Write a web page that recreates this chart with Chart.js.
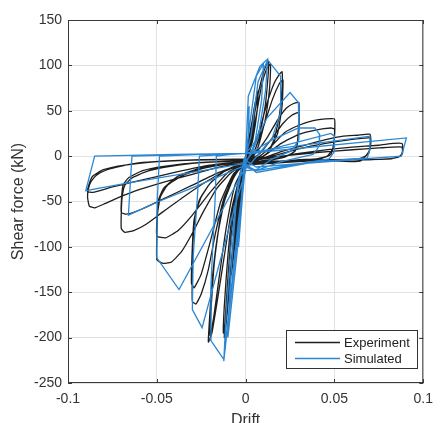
<!DOCTYPE html>
<html>
<head>
<meta charset="utf-8">
<script src="https://cdn.jsdelivr.net/npm/chart.js@4.4.1/dist/chart.umd.min.js"></script>
<style>
  html, body { margin: 0; padding: 0; background: #fff; }
  canvas { display: block; }
</style>
</head>
<body>
<canvas id="hysteresis" width="441" height="423"></canvas>
<script>
// axis ticks
var driftTicks = [-0.1, -0.05, 0, 0.05, 0.1];
var forceTicks = [-250, -200, -150, -100, -50, 0, 50, 100, 150];

// test record, one array per loading cycle: [drift, shear force kN]
var expCycle1 = [[0,0],[0.002,22],[0.004,42],[0.005,50],[0.0045,35],[0.003,15],[0.001,-2],[-0.001,-18],[-0.003,-50],[-0.005,-85],[-0.006,-100],[-0.005,-75],[-0.003,-35],[-0.001,-10],[0,-3]];
var expCycle1b = [[0.002,18],[0.005,55],[0.007,72],[0.0065,50],[0.004,18],[0.001,-4],[-0.002,-30],[-0.005,-80],[-0.008,-130],[-0.007,-95],[-0.004,-40],[-0.001,-10],[0,-4]];
var expCycle2 = [[0.002,12],[0.004,35],[0.007,68],[0.010,92],[0.012,102],[0.013,104],[0.0125,85],[0.011,55],[0.008,25],[0.005,5],[0.002,-6],[0,-14],[-0.003,-40],[-0.006,-85],[-0.009,-145],[-0.011,-185],[-0.012,-200],[-0.0115,-180],[-0.010,-135],[-0.008,-85],[-0.005,-40],[-0.002,-14],[0,-6]];
var expCycle3 = [[0.003,12],[0.006,45],[0.009,78],[0.012,97],[0.014,101],[0.0135,75],[0.011,40],[0.007,10],[0.003,-5],[0,-12],[-0.004,-45],[-0.008,-115],[-0.011,-175],[-0.0125,-195],[-0.012,-165],[-0.010,-110],[-0.007,-55],[-0.003,-18],[0,-7]];
var expCycle4 = [[0.004,8],[0.008,30],[0.012,58],[0.016,80],[0.019,90],[0.0205,93],[0.0205,75],[0.019,45],[0.016,18],[0.012,3],[0.006,-6],[0,-12],[-0.004,-28],[-0.008,-60],[-0.012,-110],[-0.016,-160],[-0.019,-195],[-0.021,-205],[-0.0205,-185],[-0.019,-140],[-0.016,-90],[-0.012,-50],[-0.007,-25],[-0.003,-13],[0,-7]];
var expCycle5 = [[0.005,6],[0.010,32],[0.015,62],[0.019,80],[0.021,84],[0.0205,55],[0.018,25],[0.013,5],[0.007,-4],[0,-10],[-0.006,-32],[-0.011,-80],[-0.015,-135],[-0.018,-178],[-0.020,-198],[-0.0195,-170],[-0.0175,-115],[-0.014,-65],[-0.009,-30],[-0.004,-14],[0,-7]];
var expCycle6 = [[0.006,4],[0.012,20],[0.018,40],[0.023,53],[0.027,58],[0.030,59],[0.0298,35],[0.029,12],[0.027,4],[0.020,-2],[0.010,-5],[0,-9],[-0.006,-20],[-0.012,-45],[-0.017,-85],[-0.021,-125],[-0.025,-152],[-0.028,-163],[-0.030,-160],[-0.030,-125],[-0.0295,-90],[-0.028,-62],[-0.025,-45],[-0.020,-30],[-0.013,-18],[-0.006,-11],[0,-7]];
var expCycle7 = [[0.008,3],[0.015,20],[0.021,36],[0.026,45],[0.030,48],[0.0298,25],[0.028,6],[0.022,-1],[0.012,-5],[0,-9],[-0.007,-20],[-0.014,-50],[-0.020,-95],[-0.025,-130],[-0.029,-145],[-0.0305,-140],[-0.030,-100],[-0.029,-70],[-0.026,-48],[-0.020,-30],[-0.012,-17],[0,-7]];
var expCycle8 = [[0.008,0],[0.015,12],[0.022,26],[0.030,34],[0.038,39],[0.045,41],[0.050,41],[0.0502,30],[0.050,21],[0.049,8],[0.046,0],[0.040,-3],[0.030,-4],[0.020,-6],[0.010,-8],[0,-10],[-0.008,-18],[-0.016,-35],[-0.024,-62],[-0.030,-85],[-0.036,-105],[-0.042,-117],[-0.047,-118],[-0.050,-114],[-0.050,-90],[-0.0495,-62],[-0.048,-45],[-0.044,-32],[-0.036,-22],[-0.025,-14],[-0.012,-9],[0,-6]];
var expCycle9 = [[0.010,0],[0.020,14],[0.030,24],[0.040,29],[0.048,31],[0.050,30],[0.0498,15],[0.048,2],[0.042,-3],[0.030,-5],[0.015,-7],[0,-9],[-0.010,-18],[-0.020,-40],[-0.030,-65],[-0.038,-82],[-0.045,-90],[-0.050,-88],[-0.0498,-65],[-0.049,-48],[-0.046,-35],[-0.038,-22],[-0.025,-13],[-0.012,-9],[0,-6]];
var expCycle10 = [[0.010,-2],[0.020,5],[0.035,13],[0.047,19],[0.055,22],[0.063,23],[0.070,24],[0.0705,16],[0.070,8],[0.068,1],[0.065,-5],[0.060,-6],[0.045,-5],[0.030,-6],[0.015,-8],[0,-10],[-0.010,-15],[-0.022,-28],[-0.035,-45],[-0.047,-62],[-0.056,-75],[-0.063,-82],[-0.068,-84],[-0.070,-80],[-0.070,-62],[-0.0695,-45],[-0.068,-32],[-0.064,-24],[-0.056,-17],[-0.045,-12],[-0.030,-8],[-0.015,-6],[0,-5]];
var expCycle11 = [[0.015,0],[0.030,8],[0.045,14],[0.058,18],[0.070,20],[0.0702,10],[0.069,2],[0.064,-3],[0.045,-4],[0.025,-5],[0,-8],[-0.015,-18],[-0.030,-32],[-0.045,-46],[-0.058,-58],[-0.067,-64],[-0.070,-62],[-0.0698,-45],[-0.069,-32],[-0.066,-24],[-0.058,-16],[-0.045,-11],[-0.025,-7],[0,-5]];
var expCycle12 = [[0.015,-2],[0.030,3],[0.045,7],[0.060,10],[0.075,12],[0.083,14],[0.088,14],[0.0885,7],[0.088,2],[0.086,-1],[0.080,-3],[0.070,-4],[0.055,-4],[0.040,-5],[0.020,-6],[0,-8],[-0.015,-12],[-0.030,-20],[-0.045,-28],[-0.060,-37],[-0.072,-46],[-0.080,-53],[-0.085,-57],[-0.088,-55],[-0.089,-45],[-0.0885,-36],[-0.087,-28],[-0.084,-21],[-0.078,-15],[-0.070,-11],[-0.058,-7],[-0.040,-5],[-0.020,-4],[0,-4]];
var expCycle13 = [[0.020,0],[0.040,4],[0.060,7],[0.075,9],[0.088,10],[0.0882,4],[0.087,0],[0.082,-3],[0.060,-4],[0.030,-5],[0,-6],[-0.020,-10],[-0.040,-18],[-0.060,-27],[-0.075,-34],[-0.086,-40],[-0.089,-39],[-0.088,-30],[-0.086,-22],[-0.080,-15],[-0.068,-10],[-0.050,-6],[-0.025,-4],[0,-3]];

// model response, same layout
var simCycle0 = [[0,0],[0.001,40],[0.002,55],[0.0015,22],[0,-5],[-0.002,-50],[-0.004,-100],[-0.003,-60],[-0.001,-12],[0,0]];
var simCycle1 = [[0.0015,66],[0.008,99],[0.0124,107],[0.0112,72],[0.007,20],[0.003,2],[0,-6],[-0.003,-60],[-0.008,-150],[-0.0123,-226],[-0.011,-175],[-0.008,-95],[-0.004,-25],[0,0]];
var simCycle1b = [[0.002,30],[0.006,88],[0.010,102],[0.009,62],[0.005,12],[0,-8],[-0.005,-110],[-0.010,-200],[-0.009,-150],[-0.005,-42],[-0.001,-4],[0,0]];
var simCycle2 = [[0.003,22],[0.007,82],[0.0124,106],[0.0197,88],[0.0197,48],[0.015,20],[0.008,4],[0.003,-8],[0,-12],[-0.004,-70],[-0.0123,-224],[-0.020,-202],[-0.0195,-140],[-0.017,-40],[-0.0165,0],[-0.008,2],[0,3]];
var simCycle3 = [[0.004,12],[0.012,42],[0.025,70],[0.0297,59],[0.030,18],[0.026,6],[0.015,-3],[0.006,-15],[0,-16],[-0.006,-55],[-0.0245,-189],[-0.030,-169],[-0.0295,-110],[-0.027,-40],[-0.026,0],[-0.012,2],[0,3]];
var simCycle4 = [[0.004,5],[0.015,18],[0.0297,31],[0.039,31],[0.0417,24],[0.0415,11],[0.038,2],[0.020,-6],[0.006,-16],[0,-12],[-0.0375,-147],[-0.050,-112],[-0.0498,-50],[-0.0485,0],[-0.025,2],[0,3]];
var simCycle5 = [[0.005,3],[0.048,25],[0.050,22],[0.050,5],[0.047,-3],[0.006,-16],[0,-10],[-0.030,-35],[-0.049,-50],[-0.066,-65],[-0.064,0],[-0.030,2],[0,3]];
var simCycle6 = [[0.005,5],[0.070,22],[0.070,8],[0.0685,-2],[0.040,-6],[0.006,-18],[0,-8],[-0.0675,-30],[-0.090,-38],[-0.085,0],[-0.040,2],[0,3]];
var simCycle7 = [[0.006,4],[0.0905,20],[0.0877,0],[0.060,-4],[0.006,-12],[0,-5]];

var experimentCycles = [expCycle1, expCycle1b, expCycle2, expCycle3, expCycle4, expCycle5, expCycle6, expCycle7,
  expCycle8, expCycle9, expCycle10, expCycle11, expCycle12, expCycle13];
var simulatedCycles = [simCycle0, simCycle1, simCycle1b, simCycle2, simCycle3, simCycle4, simCycle5, simCycle6, simCycle7];

var expColor = '#1e1e1e';
var simColor = '#2b87d3';

function toPoints(cycles) {
  var out = [];
  cycles.forEach(function(c) {
    c.forEach(function(p) { out.push({x: p[0], y: p[1]}); });
  });
  return out;
}

// frame, inward ticks, axis titles and the legend box
var decorations = {
  id: 'decorations',
  afterDraw: function(chart) {
    var ctx = chart.ctx, a = chart.chartArea;
    var sx = chart.scales.x, sy = chart.scales.y;
    ctx.save();
    ctx.strokeStyle = '#3a3a3a';
    ctx.lineWidth = 1;
    ctx.strokeRect(a.left + 0.5, a.top + 0.5, a.right - a.left - 1, a.bottom - a.top - 1);
    ctx.beginPath();
    driftTicks.forEach(function(v) {
      var px = Math.round(sx.getPixelForValue(v)) + 0.5;
      ctx.moveTo(px, a.bottom); ctx.lineTo(px, a.bottom - 4);
      ctx.moveTo(px, a.top); ctx.lineTo(px, a.top + 4);
    });
    forceTicks.forEach(function(v) {
      var py = Math.round(sy.getPixelForValue(v)) + 0.5;
      ctx.moveTo(a.left, py); ctx.lineTo(a.left + 4, py);
      ctx.moveTo(a.right, py); ctx.lineTo(a.right - 4, py);
    });
    ctx.stroke();

    ctx.fillStyle = '#333';
    ctx.font = '16px "Liberation Sans", Arial, sans-serif';
    ctx.textAlign = 'center';
    ctx.textBaseline = 'middle';
    ctx.fillText('Drift', (a.left + a.right) / 2, 421);
    ctx.translate(19, (a.top + a.bottom) / 2);
    ctx.rotate(-Math.PI / 2);
    ctx.fillText('Shear force (kN)', 0, 0);
    ctx.restore();

    // legend
    ctx.save();
    ctx.fillStyle = '#fff';
    ctx.fillRect(286, 330, 132, 39);
    ctx.strokeStyle = '#333';
    ctx.lineWidth = 1;
    ctx.strokeRect(286.5, 330.5, 131, 38);
    var rows = [['Experiment', expColor, 342], ['Simulated', simColor, 358]];
    ctx.font = '13px "Liberation Sans", Arial, sans-serif';
    ctx.textAlign = 'left';
    ctx.textBaseline = 'middle';
    rows.forEach(function(r) {
      ctx.strokeStyle = r[1];
      ctx.lineWidth = 1.3;
      ctx.beginPath();
      ctx.moveTo(295, r[2] + 0.5); ctx.lineTo(340, r[2] + 0.5);
      ctx.stroke();
      ctx.fillStyle = '#222';
      ctx.fillText(r[0], 344, r[2] + 1);
    });
    ctx.restore();
  }
};

new Chart(document.getElementById('hysteresis'), {
  type: 'scatter',
  data: {
    datasets: [
      {
        label: 'Experiment',
        data: toPoints(experimentCycles),
        showLine: true,
        borderColor: expColor,
        borderWidth: 1.3,
        pointRadius: 0,
        tension: 0.15,
        order: 2
      },
      {
        label: 'Simulated',
        data: toPoints(simulatedCycles),
        showLine: true,
        borderColor: simColor,
        borderWidth: 1.3,
        pointRadius: 0,
        tension: 0,
        order: 1
      }
    ]
  },
  options: {
    responsive: false,
    animation: false,
    devicePixelRatio: 1,
    layout: { padding: { top: 20, right: 9, left: 0, bottom: 0 } },
    plugins: { legend: { display: false }, tooltip: { enabled: false } },
    scales: {
      x: {
        type: 'linear',
        min: -0.1, max: 0.1,
        afterFit: function(s) { s.height = 40; },
        afterBuildTicks: function(s) { s.ticks = driftTicks.map(function(v) { return {value: v}; }); },
        grid: { color: '#e2e2e2', drawTicks: false },
        border: { display: false },
        ticks: {
          padding: 8,
          color: '#333',
          font: { family: '"Liberation Sans", Arial, sans-serif', size: 14 },
          callback: function(v) { return String(+Number(v).toFixed(2)); }
        }
      },
      y: {
        type: 'linear',
        min: -250, max: 150,
        afterFit: function(s) { s.width = 68; },
        afterBuildTicks: function(s) { s.ticks = forceTicks.map(function(v) { return {value: v}; }); },
        grid: { color: '#e2e2e2', drawTicks: false },
        border: { display: false },
        ticks: {
          padding: 6,
          color: '#333',
          font: { family: '"Liberation Sans", Arial, sans-serif', size: 14 },
          callback: function(v) { return String(v); }
        }
      }
    }
  },
  plugins: [decorations]
});
</script>
</body>
</html>
